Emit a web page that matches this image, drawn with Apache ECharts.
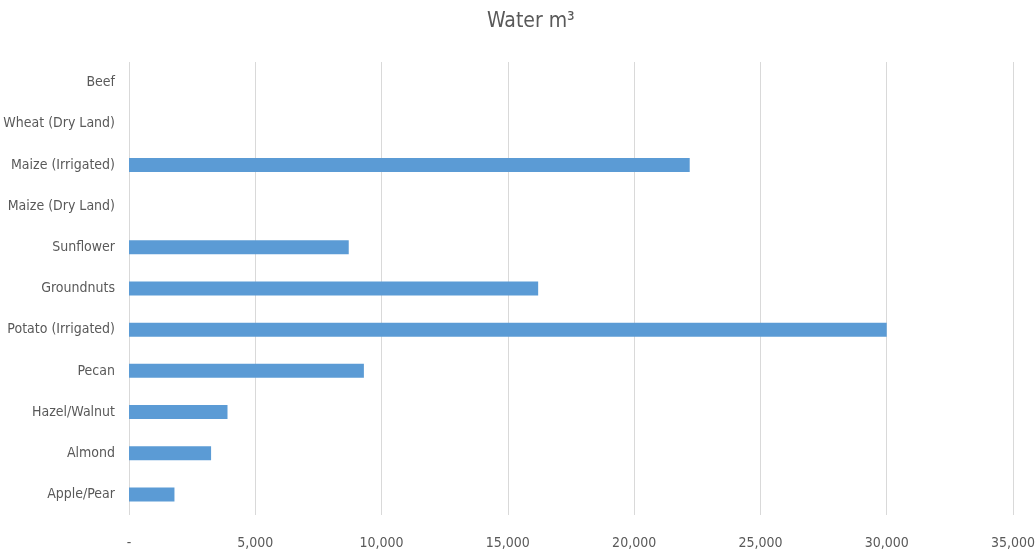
<!DOCTYPE html>
<html>
<head>
<meta charset="utf-8">
<script src="https://cdn.jsdelivr.net/npm/echarts@6/dist/echarts.min.js"></script>
<style>
  html, body { margin: 0; padding: 0; background: #fff; }
  #chart { width: 1036px; height: 552px; }
</style>
</head>
<body>
<div id="chart"></div>
<script>
const categories = ['Beef', 'Wheat (Dry Land)', 'Maize (Irrigated)', 'Maize (Dry Land)', 'Sunflower',
  'Groundnuts', 'Potato (Irrigated)', 'Pecan', 'Hazel/Walnut', 'Almond', 'Apple/Pear'];
const waterValues = [null, null, 22200, null, 8700, 16200, 30000, 9300, 3900, 3250, 1800];
const xTicks = [0, 5000, 10000, 15000, 20000, 25000, 30000, 35000];

const font = '"DejaVu Sans Condensed", Roboto, sans-serif';
const myChart = echarts.init(document.getElementById('chart'));

myChart.setOption({
  animation: false,
  title: {
    text: 'Water m³',
    left: 482,
    top: 6,
    textStyle: { fontFamily: font, fontSize: 21, fontWeight: 'normal', color: '#595959' }
  },
  grid: { left: 129, right: 23, top: 62, bottom: 37, containLabel: false, outerBoundsMode: 'none' },
  xAxis: {
    type: 'value',
    min: xTicks[0],
    max: xTicks[xTicks.length - 1],
    interval: 5000,
    axisLine: { show: false },
    axisTick: { show: false },
    axisLabel: {
      margin: 21,
      fontFamily: font,
      fontSize: 14,
      color: '#595959',
      formatter: function (v) { return v === 0 ? '-' : v.toLocaleString('en-US'); }
    },
    splitLine: { lineStyle: { color: '#d9d9d9', width: 1 } }
  },
  yAxis: {
    type: 'category',
    data: categories,
    inverse: true,
    axisLine: { show: false },
    axisTick: { show: false },
    axisLabel: { margin: 14, fontFamily: font, fontSize: 14, color: '#595959' }
  },
  series: [{
    name: 'Water m³',
    type: 'bar',
    data: waterValues,
    barWidth: 14,
    itemStyle: { color: '#5b9bd5' }
  }]
});
</script>
</body>
</html>
